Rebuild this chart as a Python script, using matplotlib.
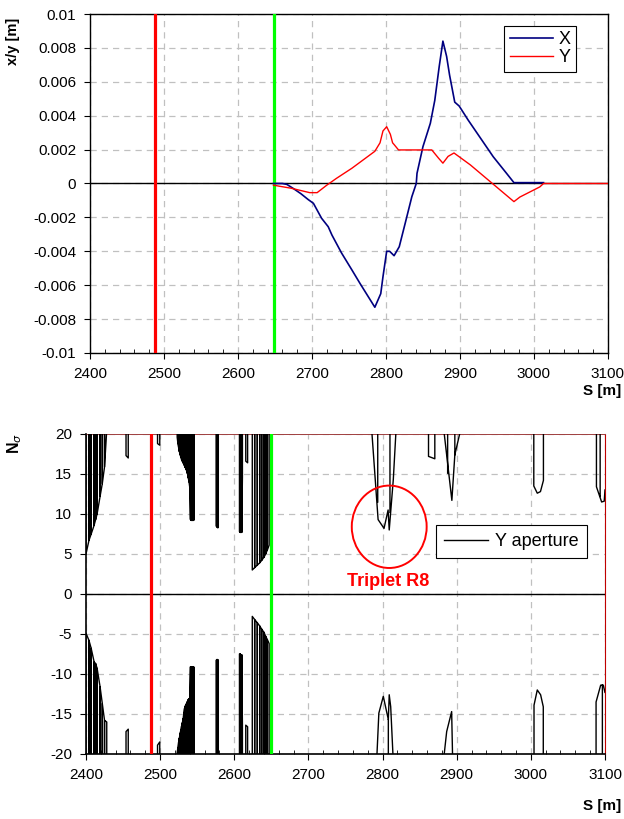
import matplotlib.pyplot as plt
import numpy as np
from matplotlib.patches import Ellipse
from matplotlib.ticker import MultipleLocator, FuncFormatter

plt.rcParams["font.family"] = ["Liberation Sans", "DejaVu Sans"]
plt.rcParams["axes.unicode_minus"] = False

# Lattice markers
S_RED = 2488
S_GREEN = 2649

# Orbit (top panel)
S_X = [2648, 2660, 2666, 2675, 2685, 2695, 2702, 2713, 2722, 2727, 2740, 2754,
       2765, 2785, 2793, 2796, 2801, 2805, 2811, 2818, 2826, 2835, 2841, 2842,
       2850, 2860, 2866, 2872, 2877, 2882, 2886, 2893, 2899, 2911, 2945, 2963,
       2973, 3013]
X_ORBIT = [0.0, 0.0, -0.00005, -0.0003, -0.0006, -0.00095, -0.00117, -0.00205,
           -0.00255, -0.00304, -0.0041, -0.0051, -0.0059, -0.0073, -0.0065,
           -0.0055, -0.0040, -0.0040, -0.00426, -0.00373, -0.00235, -0.00078,
           0.0, 0.0006, 0.00217, 0.00355, 0.0049, 0.0069, 0.0084, 0.0075,
           0.0064, 0.0048, 0.00457, 0.00375, 0.00158, 0.0006, 0.00005, 0.00005]
S_Y = [2648, 2672, 2697, 2707, 2720, 2733, 2754, 2785, 2792, 2796, 2801, 2806,
       2809, 2811, 2817, 2862, 2871, 2877, 2884, 2892, 2914, 2973, 2981, 3008,
       3013, 3100]
Y_ORBIT = [-0.0001, -0.00028, -0.00054, -0.00054, -0.0001, 0.0003, 0.0009,
           0.0019, 0.0024, 0.0031, 0.00335, 0.0029, 0.0024, 0.0023, 0.00198,
           0.00198, 0.0015, 0.0012, 0.0016, 0.0018, 0.0011, -0.00107, -0.0008,
           -0.0002, 0.0, 0.0]

# Y aperture (bottom panel): comb-like groups, teeth positions and envelope
A_S = [2400, 2404, 2407, 2411, 2413, 2415, 2419, 2422, 2425, 2428]
A_UP = [5.0, 6.7, 7.5, 8.6, 9.3, 10.0, 12.2, 13.8, 15.9, 20.5]
A_LO = [-4.9, -5.8, -6.8, -8.5, -8.7, -9.3, -11.6, -13.7, -15.8, -16.0]
B_S = [2454, 2457]
B_UP = [17.3, 17.0]
B_LO = [-17.2, -16.9]
C_S = [2496.5, 2499.5]
C_UP = [18.8, 18.6]
C_LO = [-18.9, -18.5]
D_S = [2523, 2524, 2525, 2526, 2527, 2528, 2529, 2530, 2531, 2532, 2533, 2534,
       2535, 2536, 2537, 2538, 2539, 2540, 2541, 2542, 2543, 2544, 2545, 2546]
D_UP = [19.6, 18.8, 18.3, 17.8, 17.4, 17.1, 16.8, 16.6, 16.4, 16.2, 16.0, 15.8,
        15.6, 15.3, 15.0, 14.5, 14.0, 13.3, 9.3, 9.2, 9.2, 9.2, 9.2, 9.3]
D_LO = [-19.8, -19.2, -18.5, -18.0, -17.4, -17.0, -16.5, -16.1, -15.6, -14.9,
        -14.3, -14.0, -13.8, -13.6, -13.4, -13.2, -13.1, -13.0, -9.1, -9.1,
        -9.1, -9.1, -9.1, -9.2]
E_S = [2575.5, 2576.5, 2577.5, 2578.5]
E_UP = [8.5, 8.4, 8.3, 8.3]
E_LO = [-8.3, -8.2, -8.2, -8.3]
F_S = [2607, 2608, 2609, 2610, 2611]
F_UP = [7.8, 7.7, 7.7, 7.7, 14.6]
F_LO = [-7.5, -7.5, -7.6, -7.6, -16.4]
F2_S = [2615.5, 2618]
F2_UP = [16.6, 16.4]
F2_LO = [-16.4, -16.6]
G_S = [2624.3, 2627.5, 2631.1, 2634.3, 2637, 2640.1, 2642.4, 2644.6, 2647]
G_UP = [3.0, 3.3, 3.6, 3.9, 4.2, 4.6, 5.0, 5.5, 6.1]
G_LO = [-2.8, -3.2, -3.6, -4.0, -4.4, -4.8, -5.3, -5.7, -6.2]

# Y aperture: polyline pieces (s, n_sigma), 21 / -21 means off scale
PIECES_UP = [
    [(2785, 21), (2794, 9.3), (2802, 8.2), (2807.5, 10.5), (2809, 8.0), (2814.5, 14.3), (2818.5, 21)],
    [(2793.5, 21), (2793.5, 11.5)],
    [(2810, 21), (2810, 10.2)],
    [(2862, 21), (2862, 17.2), (2870.5, 16.9), (2870.5, 21)],
    [(2882, 21), (2893.5, 11.7), (2897.5, 17.4), (2906.5, 21)],
    [(2887.8, 21), (2887.8, 15.1)],
    [(2897.5, 21), (2897.5, 17.4)],
    [(3004, 21), (3004, 13.5), (3008.7, 12.6), (3013, 12.8), (3017, 14.2), (3017, 21)],
    [(3088.5, 21), (3088.5, 13.4), (3095.5, 11.5), (3099, 11.6), (3100, 13)],
    [(3093.5, 21), (3093.5, 12.2)],
]
PIECES_LO = [
    [(2792, -21), (2795, -14.9), (2801, -12.8), (2807.8, -15.7), (2809, -12.6), (2811, -14.1), (2814.5, -21)],
    [(2807.8, -21), (2807.8, -15.7)],
    [(2882, -21), (2886.5, -17.2), (2893.2, -14.7), (2894.6, -21)],
    [(3004.3, -21), (3004.3, -13.9), (3008.7, -12.0), (3013.2, -12.6), (3016.8, -14.1), (3016.8, -21)],
    [(3088, -21), (3088, -13.5), (3094.2, -11.4), (3097.8, -11.4), (3100, -12.3)],
    [(3096.5, -21), (3096.5, -11.4)],
]


def comb(s, n, off):
    xs, ys = [s[0], s[0]], [off, n[0]]
    for i in range(1, len(s)):
        xs += [s[i], s[i]]
        ys += [n[i], off]
        if i < len(s) - 1:
            xs.append(s[i])
            ys.append(n[i])
    return xs + [np.nan], ys + [np.nan]


def build_aperture():
    xs, ys = [], []
    groups = [(A_S, A_UP, A_LO), (B_S, B_UP, B_LO), (C_S, C_UP, C_LO),
              (D_S, D_UP, D_LO), (E_S, E_UP, E_LO), (F_S, F_UP, F_LO),
              (F2_S, F2_UP, F2_LO), (G_S, G_UP, G_LO)]
    for s, up, lo in groups:
        for n, off in ((up, 25), (lo, -25)):
            a, b = comb(s, n, off)
            xs += a
            ys += b
    for piece in PIECES_UP + PIECES_LO:
        xs += [p[0] for p in piece] + [np.nan]
        ys += [p[1] for p in piece] + [np.nan]
    return xs, ys


fig = plt.figure(figsize=(6.24, 8.19), dpi=100)
ax1 = fig.add_axes([0.1442, 0.569, 0.830, 0.4139])
ax2 = fig.add_axes([0.1378, 0.0794, 0.8317, 0.3907])

grid_kw = dict(color="#c0c0c0", linestyle=(0, (5, 4)), linewidth=0.9)

# --- top panel
ax1.axvline(S_RED, color="#ff0000", lw=2.3, zorder=3)
ax1.axvline(S_GREEN, color="#00ff00", lw=2.3, zorder=3)
ax1.axhline(0, color="black", lw=1.0, zorder=2)
ax1.plot(S_X, X_ORBIT, color="#000080", lw=1.2, label="X", zorder=4)
ax1.plot(S_Y, Y_ORBIT, color="#ff0000", lw=1.0, label="Y", zorder=4)
ax1.set_xlim(2400, 3100)
ax1.set_ylim(-0.01, 0.01)
ax1.yaxis.set_major_locator(MultipleLocator(0.002))
ax1.yaxis.set_major_formatter(FuncFormatter(lambda v, p: "%g" % round(v, 4)))
ax1.grid(True, **grid_kw)
ax1.set_ylabel("x/y [m]", fontsize=10.5, fontweight="bold")
ax1.yaxis.set_label_coords(-0.135, 0.92)
ax1.legend(loc="upper right", bbox_to_anchor=(0.938, 0.965), fontsize=13,
           frameon=True, fancybox=False, edgecolor="black", framealpha=1,
           handlelength=2.4, handletextpad=0.3, borderpad=0.3, labelspacing=0.05,
           borderaxespad=0).get_frame().set_linewidth(0.8)
for sp in ax1.spines.values():
    sp.set_linewidth(1.0)

# --- bottom panel
ax2.axvline(S_RED, color="#ff0000", lw=2.3, zorder=3)
ax2.axvline(S_GREEN, color="#00ff00", lw=2.3, zorder=3)
ax2.axhline(0, color="black", lw=1.0, zorder=2)
ap_s, ap_n = build_aperture()
ax2.plot(ap_s, ap_n, color="black", lw=1.0, label="Y aperture", zorder=4)
ax2.add_patch(Ellipse((2809, 8.4), 101, 10.3, fill=False, edgecolor="#ff0000",
                      lw=1.4, zorder=5))
ax2.text(2807, 1.6, "Triplet R8", color="#ff0000", fontsize=13,
         fontweight="bold", ha="center", va="center", zorder=5)
ax2.set_xlim(2400, 3100)
ax2.set_ylim(-20, 20)
ax2.yaxis.set_major_locator(MultipleLocator(5))
ax2.grid(True, **grid_kw)
ax2.set_ylabel("N$_\\sigma$", fontsize=11.5, fontweight="bold")
ax2.yaxis.set_label_coords(-0.12, 0.97)
ax2.legend(loc="upper right", bbox_to_anchor=(0.965, 0.716), fontsize=13,
           frameon=True, fancybox=False, edgecolor="black", framealpha=1,
           handlelength=2.4, handletextpad=0.4, borderpad=0.45,
           borderaxespad=0).get_frame().set_linewidth(0.8)
ax2.spines["top"].set_color("#a04040")
ax2.spines["top"].set_linewidth(0.7)
ax2.spines["right"].set_color("#c00000")
ax2.spines["right"].set_linewidth(0.8)
ax2.spines["left"].set_linewidth(1.2)
ax2.spines["bottom"].set_linewidth(1.2)

for ax in (ax1, ax2):
    ax.xaxis.set_major_locator(MultipleLocator(100))
    ax.xaxis.set_minor_locator(MultipleLocator(20))
    ax.tick_params(axis="both", which="major", direction="out", length=4,
                   labelsize=11, pad=6)
    ax.tick_params(axis="x", which="minor", direction="in", length=3)
    ax.set_axisbelow(True)

fig.text(0.995, 0.522, "S [m]", fontsize=11, fontweight="bold", ha="right",
         va="center")
fig.text(0.995, 0.016, "S [m]", fontsize=11, fontweight="bold", ha="right",
         va="center")

fig.savefig("out.png", dpi=100)
